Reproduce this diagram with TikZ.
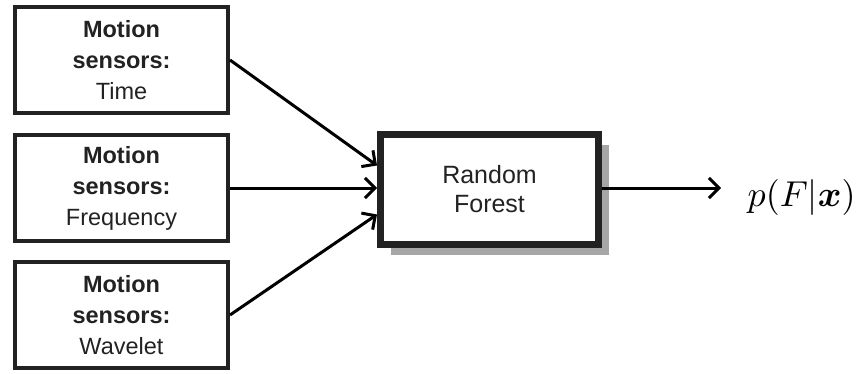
\documentclass[tikz,border=0pt]{standalone}
\usepackage{fontspec}
\usepackage{bm}
\setmainfont{Liberation Sans}
\usetikzlibrary{arrows.meta,shadows}
\definecolor{ink}{HTML}{222222}
\tikzset{
  x=1pt,y=1pt,
  sensorbox/.style={draw=ink, line width=4pt, fill=white, minimum width=213pt, minimum height=106pt, inner sep=0pt, align=center, text=ink, font=\fontsize{23.5}{31}\selectfont},
  rfbox/.style={draw=ink, line width=7pt, fill=white, minimum width=218pt, minimum height=110pt, inner sep=0pt, align=center, text=ink, font=\fontsize{25}{29}\selectfont,
    drop shadow={shadow xshift=10pt, shadow yshift=-10pt, fill=black!35, opacity=1}},
  arr/.style={draw=black, line width=3pt, -{Straight Barb[length=10pt,width=20pt,line width=3pt]}},
  mathlabel/.style={text=black, inner sep=0pt, scale=3.6}
}
\begin{document}
\begin{tikzpicture}
\useasboundingbox (0,0) rectangle (862,373);
\node[sensorbox] (b1) at (121.5,313) {\textbf{Motion}\\\textbf{sensors:}\\Time};
\node[sensorbox] (b2) at (121.5,185) {\textbf{Motion}\\\textbf{sensors:}\\Frequency};
\node[sensorbox] (b3) at (121.5,58) {\textbf{Motion}\\\textbf{sensors:}\\Wavelet};
\node[rfbox] (rf) at (489.5,183.5) {Random\\Forest};
\coordinate (out) at (721,185);
\node[mathlabel, anchor=west] (p) at (747,176) {$p(F|\bm{x})$};
\draw[arr] (b1.east) -- ([yshift=24pt]rf.west);
\draw[arr] (b2.east) -- ([yshift=1.5pt]rf.west);
\draw[arr] (b3.east) -- ([yshift=-25pt]rf.west);
\draw[arr] ([yshift=1.5pt]rf.east) -- (out);
\end{tikzpicture}
\end{document}
